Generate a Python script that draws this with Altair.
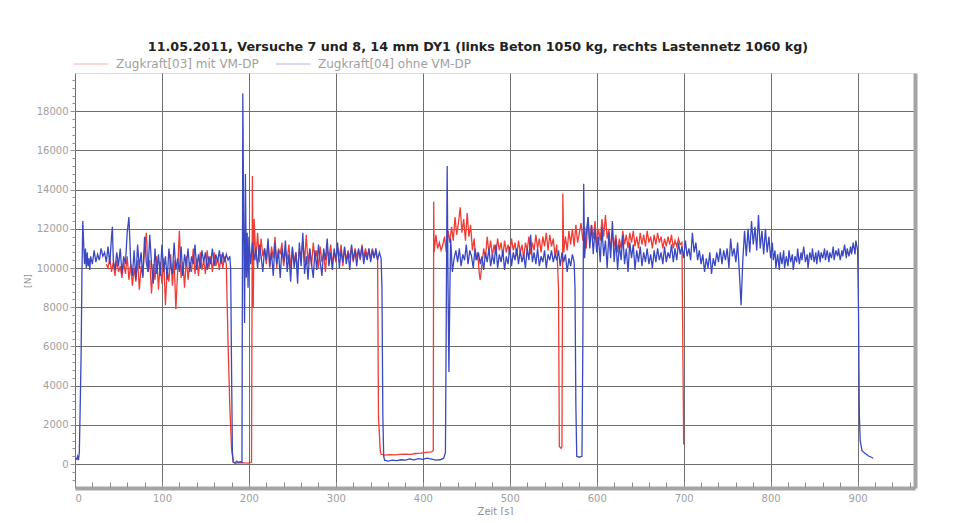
import altair as alt
import pandas as pd

title_text = "11.05.2011, Versuche 7 und 8, 14 mm DY1 (links Beton 1050 kg, rechts Lastennetz 1060 kg)"
series_names = ["Zugkraft[03] mit VM-DP", "Zugkraft[04] ohne VM-DP"]
series_colors = ["#f03c34", "#3a48c2"]
x_ticks = list(range(0, 901, 100))
x_minor_ticks = list(range(0, 961, 20))
y_ticks = list(range(0, 18001, 2000))
y_minor_ticks = list(range(-800, 19601, 400))

red_points = [
    (36, 10200), (38, 10000), (40, 10500), (42, 9800), (44, 10300), (46, 9600), (48, 10400), (50, 9800),
    (52, 10100), (54, 9500), (56, 10300), (58, 9700), (60, 10600), (62, 9400), (64, 10200), (66, 9100),
    (68, 10000), (70, 9300), (72, 10400), (74, 8900), (76, 10100), (78, 9600), (80, 11000), (82, 11800),
    (84, 9800), (86, 10400), (88, 8700), (90, 10200), (92, 9400), (94, 10600), (96, 8900), (98, 10300),
    (100, 9200), (102, 10500), (104, 8100), (106, 9900), (108, 9300), (110, 10700), (112, 9100), (114, 10400),
    (116, 7900), (118, 9800), (120, 11900), (122, 9500), (124, 10300), (126, 9000), (128, 10600), (130, 9400),
    (132, 10300), (134, 9800), (136, 11000), (138, 9700), (140, 10500), (142, 9600), (144, 10800), (146, 9900),
    (148, 10400), (150, 9700), (152, 10900), (154, 10000), (156, 10600), (158, 9800), (160, 10800), (162, 10100),
    (164, 10500), (166, 9900), (168, 10700), (170, 10000), (172, 10600), (174, 10200), (176, 6200), (178, 3000),
    (180, 800), (182, 100), (185, 50), (190, 80), (195, 60), (200, 50), (203, 100), (204, 14700),
    (205, 8000), (206, 12500), (208, 10400), (210, 11800), (212, 10300), (214, 11500), (216, 10600), (218, 11000),
    (220, 10200), (222, 11300), (224, 10000), (226, 11100), (228, 10500), (230, 11600), (232, 10000), (234, 11000),
    (236, 10700), (238, 11300), (240, 10100), (242, 10900), (244, 10400), (246, 11200), (248, 10000), (250, 11000),
    (252, 10300), (254, 10800), (256, 9900), (258, 10900), (260, 10600), (262, 11400), (264, 10300), (266, 11700),
    (268, 10200), (270, 11000), (272, 10100), (274, 11300), (276, 10400), (278, 10900), (280, 10000), (282, 11100),
    (284, 10300), (286, 10800), (288, 9800), (290, 11000), (292, 10500), (294, 11200), (296, 10200), (298, 10800),
    (300, 10300), (302, 11000), (304, 10600), (306, 11200), (308, 10100), (310, 11000), (312, 10400), (314, 10900),
    (316, 10500), (318, 11100), (320, 10300), (322, 11000), (324, 10600), (326, 10900), (328, 10400), (330, 11200),
    (332, 10500), (334, 11000), (336, 10600), (338, 10900), (340, 10500), (342, 11000), (344, 10600), (346, 10800),
    (348, 10400), (349, 2400), (351, 700), (352, 500), (356, 460), (362, 480), (368, 470), (374, 500),
    (380, 510), (386, 500), (392, 540), (398, 560), (404, 600), (410, 620), (412, 700), (412.5, 13400),
    (413, 10800), (415, 11700), (417, 11000), (419, 11300), (421, 10900), (423, 11200), (425, 11600), (427, 10800),
    (429, 11900), (431, 11300), (433, 12100), (435, 11400), (437, 12600), (439, 11700), (441, 12300), (443, 13100),
    (445, 11800), (447, 12500), (449, 11400), (451, 12800), (453, 11600), (455, 12200), (457, 10900), (459, 11500),
    (461, 10400), (463, 10800), (465, 9700), (466, 9400), (468, 10200), (470, 11000), (472, 10500), (474, 11600),
    (476, 10800), (478, 11400), (480, 10600), (482, 11200), (484, 10700), (486, 11500), (488, 10900), (490, 11300),
    (492, 10600), (494, 11400), (496, 10800), (498, 11200), (500, 10700), (502, 11500), (504, 10900), (506, 11300),
    (508, 10600), (510, 11400), (512, 10800), (514, 11200), (516, 10500), (518, 11300), (520, 10900), (522, 11600),
    (524, 10700), (526, 11300), (528, 10900), (530, 11700), (532, 11000), (534, 11500), (536, 10800), (538, 11600),
    (540, 11100), (542, 11800), (544, 10900), (546, 11700), (548, 11100), (550, 11500), (552, 10600), (554, 11200),
    (556, 9000), (557, 900), (559, 800), (560, 900), (561, 13800), (562, 10800), (564, 11600), (566, 10900),
    (568, 11900), (570, 11200), (572, 12000), (574, 11100), (576, 12200), (578, 11300), (580, 11800), (582, 12300),
    (584, 11400), (586, 12100), (588, 11000), (590, 12600), (592, 11300), (594, 12200), (596, 11500), (598, 12400),
    (600, 11200), (602, 12000), (604, 11400), (606, 12500), (608, 11600), (610, 12700), (612, 11500), (614, 12000),
    (616, 10900), (618, 11800), (620, 11100), (622, 11700), (624, 10800), (626, 11500), (628, 11000), (630, 11900),
    (632, 11200), (634, 11700), (636, 11000), (638, 11800), (640, 11300), (642, 11900), (644, 11100), (646, 11600),
    (648, 11000), (650, 11800), (652, 11200), (654, 11700), (656, 11100), (658, 11900), (660, 11300), (662, 11600),
    (664, 11000), (666, 11700), (668, 11200), (670, 11800), (672, 11300), (674, 11600), (676, 11000), (678, 11500),
    (680, 11100), (682, 11600), (684, 11200), (686, 11700), (688, 11000), (690, 11400), (692, 11100), (694, 11500),
    (696, 11200), (698, 11300), (699, 6000), (700, 1000),
]

blue_points = [
    (0, 300), (2, 250), (3, 400), (4, 200), (5, 600), (6, 3000), (7, 5500), (8, 9800),
    (9, 12400), (10, 11200), (11, 10200), (12, 11000), (13, 10000), (14, 10800), (15, 10100), (16, 10500),
    (17, 9900), (18, 10600), (20, 10200), (22, 10900), (24, 10300), (26, 10700), (28, 10400), (30, 11000),
    (32, 10600), (34, 10800), (36, 10300), (38, 11100), (40, 10200), (42, 11600), (43, 12100), (44, 10400),
    (46, 9900), (48, 10800), (50, 10100), (52, 11000), (54, 9700), (56, 10600), (58, 10200), (60, 11800),
    (62, 12600), (63, 11500), (64, 10300), (66, 9600), (68, 10900), (70, 9400), (72, 11200), (74, 10000),
    (76, 10800), (78, 9500), (80, 11600), (82, 10300), (84, 9800), (86, 11700), (88, 10200), (90, 9200),
    (92, 11000), (94, 9700), (96, 10700), (98, 9600), (100, 11200), (102, 9800), (104, 10600), (106, 9400),
    (108, 11000), (110, 10100), (112, 9700), (114, 11300), (116, 9900), (118, 10500), (120, 9800), (122, 11100),
    (124, 9600), (126, 10700), (128, 10100), (130, 11000), (132, 9800), (134, 10600), (136, 10200), (138, 11200),
    (140, 9900), (142, 10700), (144, 10000), (146, 10900), (148, 10300), (150, 10800), (152, 9900), (154, 10600),
    (156, 10200), (158, 11000), (160, 10100), (162, 10700), (164, 10300), (166, 10900), (168, 10200), (170, 10800),
    (172, 10300), (174, 10700), (176, 10400), (178, 10600), (179, 10000), (180, 5000), (181, 600), (182, 100),
    (184, 50), (186, 150), (188, 80), (190, 120), (192, 100), (193, 18900), (194, 12000), (195, 7200),
    (196, 14800), (197, 9500), (198, 11800), (199, 9000), (200, 11600), (202, 10200), (204, 11300), (206, 10400),
    (208, 11000), (210, 10000), (212, 11200), (214, 10600), (216, 9800), (218, 11000), (220, 10400), (222, 11500),
    (224, 10100), (226, 10800), (228, 9600), (230, 11300), (232, 10200), (234, 10900), (236, 9500), (238, 11000),
    (240, 10300), (242, 11400), (244, 9800), (246, 10700), (248, 9300), (250, 11100), (252, 10000), (254, 10800),
    (256, 9200), (258, 11300), (260, 10100), (262, 11800), (264, 9700), (266, 10600), (268, 9400), (270, 11000),
    (272, 10200), (274, 9500), (276, 10900), (278, 9900), (280, 11200), (282, 10300), (284, 9600), (286, 11000),
    (288, 10400), (290, 11500), (292, 10100), (294, 10800), (296, 9900), (298, 11000), (300, 10400), (302, 11300),
    (304, 10000), (306, 10900), (308, 10300), (310, 11100), (312, 10200), (314, 10800), (316, 9900), (318, 11200),
    (320, 10400), (322, 10900), (324, 10100), (326, 11000), (328, 10500), (330, 11100), (332, 10200), (334, 10800),
    (336, 10400), (338, 11000), (340, 10300), (342, 10900), (344, 10500), (346, 11000), (348, 10400), (350, 10800),
    (352, 10500), (353, 9000), (354, 2500), (355, 400), (356, 200), (360, 150), (365, 200), (370, 180),
    (375, 220), (380, 200), (385, 260), (390, 220), (395, 280), (400, 240), (405, 300), (410, 250),
    (415, 200), (420, 220), (424, 300), (426, 600), (427, 8000), (428, 15200), (429, 9000), (430, 4700),
    (431, 8500), (432, 11500), (434, 9800), (436, 10500), (438, 10900), (440, 10300), (442, 11000), (444, 10100),
    (446, 10700), (448, 10400), (450, 11200), (452, 10200), (454, 10900), (456, 10600), (458, 10000), (460, 11000),
    (462, 10400), (464, 10800), (466, 10200), (468, 10600), (470, 9900), (472, 10800), (474, 10300), (476, 11000),
    (478, 10100), (480, 10700), (482, 10200), (484, 11200), (486, 10000), (488, 10700), (490, 10300), (492, 10900),
    (494, 9900), (496, 10600), (498, 10200), (500, 11100), (502, 10100), (504, 10800), (506, 10400), (508, 11000),
    (510, 10200), (512, 10900), (514, 10300), (516, 10700), (518, 10000), (520, 11000), (522, 10400), (524, 11700),
    (526, 10300), (528, 10800), (530, 10200), (532, 11000), (534, 10100), (536, 10600), (538, 10300), (540, 10900),
    (542, 10000), (544, 10700), (546, 10400), (548, 10900), (550, 10300), (552, 10700), (554, 10400), (556, 10900),
    (558, 10100), (560, 10800), (562, 10300), (564, 10700), (566, 9800), (568, 10500), (570, 10100), (572, 10700),
    (574, 10300), (575, 9000), (576, 3000), (577, 400), (580, 350), (583, 400), (584, 6000), (585, 14300),
    (586, 10500), (588, 11800), (590, 12600), (592, 11000), (594, 12200), (596, 10700), (598, 12000), (600, 10800),
    (602, 11600), (604, 10300), (606, 12100), (608, 10600), (610, 11400), (612, 10000), (614, 11800), (616, 10500),
    (618, 12400), (620, 10300), (622, 11500), (624, 9900), (626, 11200), (628, 10400), (630, 11700), (632, 10200),
    (634, 11000), (636, 9800), (638, 11300), (640, 10500), (642, 11200), (644, 9900), (646, 10900), (648, 10300),
    (650, 11100), (652, 10100), (654, 10800), (656, 10300), (658, 11000), (660, 10200), (662, 10700), (664, 10000),
    (666, 10900), (668, 10300), (670, 11000), (672, 10400), (674, 10800), (676, 10200), (678, 11100), (680, 10300),
    (682, 10800), (684, 10500), (686, 11200), (688, 10300), (690, 11000), (692, 10400), (694, 11300), (696, 10700),
    (698, 11100), (700, 10500), (702, 11400), (704, 10600), (706, 11000), (708, 10400), (710, 11800), (712, 10800),
    (714, 11300), (716, 10400), (718, 10900), (720, 10200), (722, 10700), (724, 9800), (726, 10500), (728, 10000),
    (730, 10800), (732, 9700), (734, 10500), (736, 10100), (738, 10800), (740, 10300), (742, 11000), (744, 10200),
    (746, 10900), (748, 10400), (750, 11000), (752, 10000), (754, 11500), (756, 10600), (758, 11000), (760, 10300),
    (762, 11300), (764, 9800), (766, 8100), (768, 10400), (770, 11900), (772, 10600), (774, 12000), (776, 10800),
    (778, 12400), (780, 11200), (782, 12100), (784, 10900), (786, 12700), (788, 11000), (790, 11900), (792, 10700),
    (794, 12000), (796, 10800), (798, 11600), (800, 10500), (802, 11300), (803, 10400), (805, 10900), (806, 10000),
    (808, 10700), (810, 9900), (811, 10800), (813, 10200), (815, 10900), (816, 10000), (818, 10600), (820, 10100),
    (821, 10900), (823, 10300), (825, 10700), (826, 9900), (828, 10600), (830, 10300), (831, 11000), (833, 10200),
    (835, 10800), (836, 10400), (838, 11100), (840, 10300), (842, 10700), (843, 10000), (845, 10800), (847, 10400),
    (848, 11000), (850, 10300), (852, 10800), (853, 10200), (855, 10900), (857, 10300), (858, 10800), (860, 10500),
    (862, 11000), (863, 10400), (865, 10900), (867, 10300), (868, 10800), (870, 10500), (872, 11100), (873, 10400),
    (875, 10900), (877, 10600), (878, 11000), (880, 10400), (882, 10900), (883, 10600), (885, 11200), (887, 10500),
    (888, 11000), (890, 10600), (892, 11100), (893, 10700), (895, 11300), (897, 10700), (898, 11400), (900, 10900),
    (901, 8000), (902, 2500), (903, 1200), (905, 700), (907, 600), (910, 500), (913, 400), (916, 350),
    (918, 300),
]

df_red = pd.DataFrame(red_points, columns=["t", "v"])
df_red["serie"] = series_names[0]
df_blue = pd.DataFrame(blue_points, columns=["t", "v"])
df_blue["serie"] = series_names[1]

FONT = "DejaVu Sans"
xs = alt.Scale(domain=[0, 966], nice=False, zero=False)
ys = alt.Scale(domain=[-1220, 19950], nice=False, zero=False)
color = alt.Color(
    "serie:N",
    scale=alt.Scale(domain=series_names, range=series_colors),
    legend=alt.Legend(
        title=None, orient="none", legendX=-2, legendY=-27, direction="horizontal",
        symbolType="stroke", symbolSize=1200, symbolStrokeWidth=1, symbolOpacity=0.4,
        labelFont=FONT, labelFontSize=12, labelColor="#a0a0a0", columnPadding=14,
        labelOffset=7,
    ),
)

red = alt.Chart(df_red).mark_line(strokeWidth=1.3, clip=True).encode(
    x=alt.X("t:Q", scale=xs, axis=alt.Axis(
        values=x_ticks, title="Zeit [s]", grid=True, gridColor="#6e6e6e", gridWidth=1,
        ticks=False, domainWidth=4, domainColor="#a4a4a4", labelPadding=5, format="d",
        labelFont=FONT, labelFontSize=10, labelColor="#a0a0a0",
        titleFont=FONT, titleFontSize=10, titleFontWeight="normal", titleColor="#909090", titlePadding=3,
    )),
    y=alt.Y("v:Q", scale=ys, axis=alt.Axis(
        values=y_ticks, title="[N]", grid=True, gridColor="#6e6e6e", gridWidth=1, format="d",
        tickSize=5, tickColor="#909090", domain=False, labelPadding=2,
        labelFont=FONT, labelFontSize=10, labelColor="#a0a0a0",
        titleFont=FONT, titleFontSize=9, titleFontWeight="normal", titleColor="#909090", titlePadding=4,
    )),
    color=color,
    order=alt.Order("t:Q"),
)

blue = alt.Chart(df_blue).mark_line(strokeWidth=1.3, clip=True).encode(
    x=alt.X("t:Q", scale=xs, axis=alt.Axis(
        orient="bottom", values=x_minor_ticks, labels=False, title=None, grid=False, domain=False,
        tickSize=5, tickColor="#8a8a8a", offset=-6,
    )),
    y=alt.Y("v:Q", scale=ys, axis=alt.Axis(
        orient="left", values=y_minor_ticks, labels=False, title=None, grid=False, domain=False,
        tickSize=3, tickColor="#909090",
    )),
    color=color,
    order=alt.Order("t:Q"),
)

edge = alt.Chart(df_blue).mark_line(opacity=0).encode(
    x=alt.X("t:Q", scale=xs, axis=None),
    y=alt.Y("v:Q", scale=ys, axis=alt.Axis(
        orient="right", labels=False, ticks=False, grid=False, title=None,
        domainWidth=4, domainColor="#a4a4a4",
    )),
)

chart = alt.layer(red, blue, edge).resolve_axis(x="independent", y="independent").properties(
    width=840, height=415,
    title=alt.TitleParams(
        text=title_text, font=FONT, fontSize=12.7, fontWeight="bold", color="#222222",
        anchor="middle", dx=-17, dy=8, offset=0,
    ),
    autosize=alt.AutoSizeParams(type="none"),
    padding={"left": 67, "top": 65, "right": 33, "bottom": 27},
).configure_view(stroke="#606060", strokeWidth=1).configure(background="white")

chart.save("out.html", embed_options={"renderer": "svg", "actions": False})
